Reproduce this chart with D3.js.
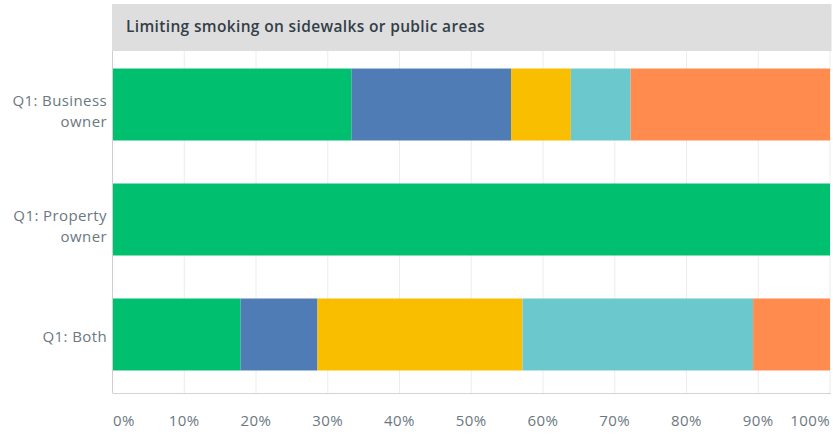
<!DOCTYPE html>
<html>
<head>
<meta charset="utf-8">
<script src="https://cdn.jsdelivr.net/npm/d3@7"></script>
<style>
  html, body { margin: 0; padding: 0; background: #fff; }
  svg { display: block; font-family: "Open Sans", "Noto Sans", sans-serif; }
</style>
</head>
<body>
<svg id="chart" width="833" height="434"></svg>
<script>
// Respondent groups (one bar each)
const categories = ["Q1: Business owner", "Q1: Property owner", "Q1: Both"];
const categoryLines = [["Q1: Business", "owner"], ["Q1: Property", "owner"], ["Q1: Both"]];

// Answer shares (%) per group, in stacking order
const series1 = [33.33, 100, 17.86];
const series2 = [22.22, 0, 10.71];
const series3 = [8.33, 0, 28.57];
const series4 = [8.33, 0, 32.14];
const series5 = [27.79, 0, 10.72];
const seriesValues = [series1, series2, series3, series4, series5];
const seriesColors = ["#00bf6f", "#507cb6", "#f9be00", "#6bc8cd", "#ff8b4f"];

const tickValues = [0, 10, 20, 30, 40, 50, 60, 70, 80, 90, 100];
const tickLabels = ["0%", "10%", "20%", "30%", "40%", "50%", "60%", "70%", "80%", "90%", "100%"];
const title = "Limiting smoking on sidewalks or public areas";

(function draw() {
  const svg = d3.select("#chart");
  const plotLeft = 112.5, plotRight = 830, plotTop = 51, plotBottom = 393;

  const x = d3.scaleLinear().domain([0, 100]).range([plotLeft, plotRight]);
  const y = d3.scaleBand().domain(categories).range([50, 389])
    .paddingInner(0.374).paddingOuter(0.161);

  // Title band
  svg.append("rect")
    .attr("x", plotLeft - 0.5).attr("y", 4)
    .attr("width", plotRight - plotLeft + 2).attr("height", plotTop - 4)
    .attr("fill", "#dedede");
  svg.append("text")
    .attr("x", 126).attr("y", 31.5)
    .attr("fill", "#333e48")
    .attr("font-size", 15.5)
    .attr("font-weight", 600)
    .attr("letter-spacing", 0.35)
    .text(title);

  // Vertical gridlines
  svg.append("g")
    .selectAll("line")
    .data(tickValues)
    .join("line")
    .attr("x1", d => x(d)).attr("x2", d => x(d))
    .attr("y1", plotTop).attr("y2", plotBottom)
    .attr("stroke", "#ececec").attr("stroke-width", 1);

  // Stacked bars
  const rows = categories.map((c, i) => {
    const o = { category: c };
    seriesValues.forEach((s, k) => { o["s" + k] = s[i]; });
    return o;
  });
  const keys = seriesValues.map((s, k) => "s" + k);
  const stacked = d3.stack().keys(keys)(rows);

  svg.append("g")
    .selectAll("g")
    .data(stacked)
    .join("g")
    .attr("fill", (d, k) => seriesColors[k])
    .selectAll("rect")
    .data(d => d)
    .join("rect")
    .attr("x", d => x(d[0]))
    .attr("width", d => Math.max(0, x(d[1]) - x(d[0])))
    .attr("y", d => y(d.data.category))
    .attr("height", y.bandwidth());

  // Axis lines
  svg.append("line")
    .attr("x1", plotLeft).attr("x2", plotLeft)
    .attr("y1", plotTop).attr("y2", plotBottom)
    .attr("stroke", "#cfcfcf");
  svg.append("line")
    .attr("x1", plotLeft).attr("x2", plotRight + 1)
    .attr("y1", plotBottom + 0.5).attr("y2", plotBottom + 0.5)
    .attr("stroke", "#d4d4d4");

  // X tick labels
  const last = tickValues.length - 1;
  svg.append("g")
    .selectAll("text")
    .data(tickValues)
    .join("text")
    .attr("x", (d, i) => i === 0 ? x(d) + 0.5 : x(d))
    .attr("y", 426)
    .attr("text-anchor", (d, i) => i === 0 ? "start" : (i === last ? "end" : "middle"))
    .attr("fill", "#6b787f")
    .attr("font-size", 15)
    .attr("letter-spacing", 0.4)
    .text((d, i) => tickLabels[i]);

  // Category labels
  const lineH = 21;
  svg.append("g")
    .selectAll("text")
    .data(categories)
    .join("text")
    .attr("text-anchor", "end")
    .attr("fill", "#6b787f")
    .attr("font-size", 15)
    .attr("letter-spacing", 0.4)
    .each(function(c, i) {
      const lines = categoryLines[i];
      const cy = y(c) + y.bandwidth() / 2;
      const y0 = cy + 7.5 - (lines.length - 1) * 6.3;
      d3.select(this).selectAll("tspan")
        .data(lines)
        .join("tspan")
        .attr("x", 107)
        .attr("y", (l, j) => y0 + j * lineH)
        .text(l => l);
    });
})();
</script>
</body>
</html>
